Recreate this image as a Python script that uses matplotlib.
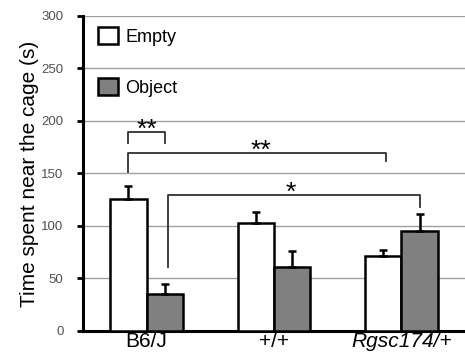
import matplotlib
matplotlib.use("Agg")
import matplotlib.pyplot as plt
import numpy as np

plt.rcParams['font.family'] = ['Liberation Sans', 'DejaVu Sans']

groups = ["B6/J", "+/+", "Rgsc174/+"]
empty = [126, 103, 71]
empty_err = [12, 10, 6]
obj = [35, 61, 95]
obj_err = [10, 15, 16]

fig = plt.figure(figsize=(4.65, 3.6), dpi=100)
ax = fig.add_axes([0.1785, 0.0806, 0.8215, 0.875])

x = np.arange(len(groups))
w = 0.286
ekw = dict(ecolor="black", elinewidth=1.8, capsize=3, capthick=1.8)
ax.bar(x - w/2, empty, w, color="white", edgecolor="black", lw=1.8,
       yerr=[[0]*3, empty_err], error_kw=ekw, label="Empty", zorder=3)
ax.bar(x + w/2, obj, w, color="#808080", edgecolor="black", lw=1.8,
       yerr=[[0]*3, obj_err], error_kw=ekw, label="Object", zorder=3)

ax.set_xlim(-0.5, 2.5)
ax.set_ylim(0, 300)
ax.set_yticks(range(0, 301, 50))
ax.yaxis.grid(True, color="#a0a0a0", lw=1.0)
ax.set_axisbelow(True)
for s in ["top", "right"]:
    ax.spines[s].set_visible(False)
ax.spines["left"].set_linewidth(2.2)
ax.spines["bottom"].set_linewidth(2.2)
ax.tick_params(axis="y", length=4, width=2, labelsize=9.5, labelcolor="#505050", pad=10)
ax.tick_params(axis="x", length=0, labelsize=15, pad=1)
ax.set_xticks(x)
ax.set_xticklabels(groups)
ax.get_xticklabels()[2].set_style("italic")
ax.set_ylabel("Time spent near the cage (s)", fontsize=15, labelpad=2)

# significance brackets
def bracket(x1, x2, y1, y2, top, txt, tx):
    ax.plot([x1, x1, x2, x2], [y1, top, top, y2], color="#303030", lw=1.3, zorder=4)
    ax.text(tx, top - 5, txt, ha="center", va="baseline", fontsize=19)

bracket(-w/2, w/2, 179, 179, 189.5, "**", 0)
bracket(-w/2, 1.88, 151, 162, 169.5, "**", 0.9)
bracket(0.17, 2 + w/2, 61, 118, 129.5, "*", 1.13)

leg = ax.legend(loc="upper left", frameon=False, fontsize=13, handlelength=1.1,
                handleheight=1.1, labelspacing=1.8, handletextpad=0.4,
                borderaxespad=0.2, bbox_to_anchor=(0.012, 1.0))

fig.savefig("out.png", dpi=100)
